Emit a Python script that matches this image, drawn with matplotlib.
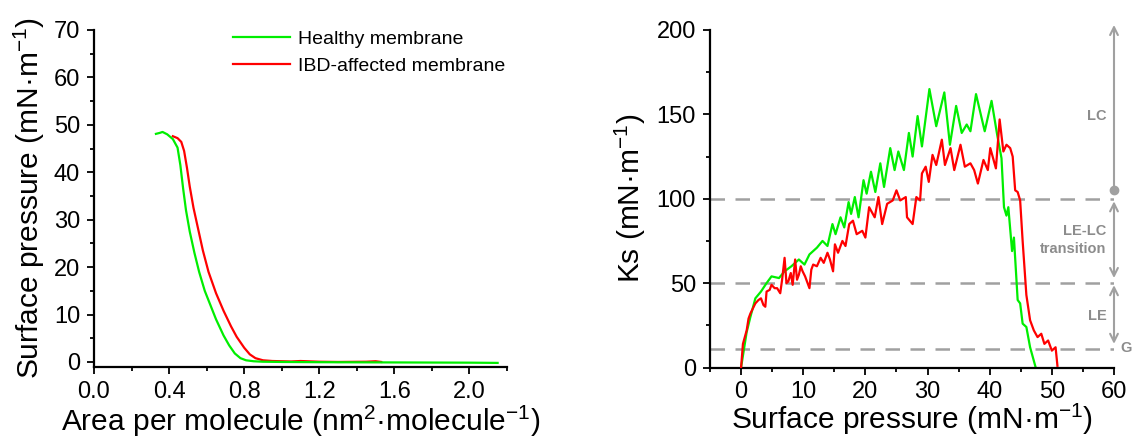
import matplotlib
matplotlib.use("Agg")
import matplotlib.pyplot as plt
from matplotlib.ticker import MultipleLocator

plt.rcParams['font.family'] = ['Liberation Sans', 'DejaVu Sans']
plt.rcParams['mathtext.fontset'] = 'custom'
plt.rcParams['mathtext.rm'] = 'Liberation Sans'
plt.rcParams['mathtext.default'] = 'regular'

GREEN = '#00ee00'
RED = '#ff0000'
GRAY = '#a0a0a0'
TXT_GRAY = '#8c8c8c'

# --- left panel: isotherms (area per molecule vs surface pressure)
healthy_area = [0.33, 0.35, 0.365, 0.39, 0.42, 0.445, 0.46, 0.475, 0.49, 0.51, 0.535,
                0.56, 0.59, 0.62, 0.65, 0.69, 0.72, 0.75, 0.78, 0.81, 0.85, 0.9, 1.0,
                1.2, 1.6, 2.0, 2.15]
healthy_pi = [48.1, 48.3, 48.5, 48.0, 47.0, 45.2, 41.5, 36.5, 32.0, 27.5, 23.0,
              19.0, 15.0, 12.0, 9.0, 5.6, 3.5, 1.8, 0.8, 0.35, 0.15, 0.05, 0.0,
              -0.05, -0.1, -0.15, -0.2]
ibd_area = [0.42, 0.445, 0.465, 0.48, 0.495, 0.51, 0.53, 0.555, 0.58, 0.61, 0.65,
            0.69, 0.73, 0.76, 0.8, 0.83, 0.86, 0.9, 0.95, 1.05, 1.1, 1.2, 1.3, 1.45,
            1.5, 1.53]
ibd_pi = [47.6, 47.2, 46.4, 44.5, 41.0, 37.0, 32.5, 28.0, 23.5, 19.0, 14.5,
          10.8, 7.5, 5.3, 3.0, 1.6, 0.8, 0.35, 0.2, 0.1, 0.2, 0.05, 0.0, 0.05,
          0.15, 0.0]

# --- right panel: compression modulus vs surface pressure
healthy_ks_pi = [0, 0.9, 1.5, 2.3, 3.2, 4.1, 4.9, 6.1, 7.0, 8.1, 9.3, 10.2, 11.0, 12.2,
                 13.1, 13.9, 14.7, 15.2, 16.0, 16.6, 17.3, 17.7, 18.3, 18.9, 19.7, 20.2,
                 20.9, 21.6, 22.4, 23.0, 24.0, 24.7, 25.3, 26.2, 27.0, 27.6, 28.4, 29.1,
                 30.3, 31.4, 32.7, 33.6, 34.6, 35.5, 36.3, 36.9, 37.8, 39.2, 40.3, 41.2,
                 41.9, 42.3, 42.7, 43.0, 43.6, 43.9, 44.5, 44.9, 45.3, 45.9, 46.5, 47.1,
                 47.4]
healthy_ks = [0, 21, 30, 41, 45, 50, 54, 53, 57, 60, 64, 61, 67, 71,
              75, 72, 85, 79, 89, 83, 98, 91, 101, 89, 111, 103,
              116, 104, 121, 107, 130, 117, 128, 117, 139, 125, 149, 131,
              165, 143, 163, 132, 155, 139, 144, 140, 162, 140, 158, 138,
              124, 95, 90, 95, 69, 77, 40, 38, 26, 24, 12, 4,
              0]
ibd_ks_pi = [0, 0.3, 0.6, 0.9, 1.2, 1.5, 1.9, 2.3, 2.8, 3.2, 3.6, 3.9, 4.1, 4.6, 4.9,
             5.4, 5.8, 6.3, 6.6, 7.0, 7.3, 7.6, 8.0, 8.3, 8.7, 9.0, 9.3, 9.6, 9.9,
             10.3, 11.0, 11.3, 11.6, 12.2, 12.8, 13.3, 13.9, 14.3, 14.8, 15.1, 15.6,
             16.3, 16.8, 17.4, 18.0, 18.6, 19.5, 20.0, 20.6,
             21.5, 22.1, 22.7, 23.5, 24.4, 25.0, 25.6, 26.5, 26.7, 27.6, 28.2, 28.8,
             29.1, 29.7, 30.2, 30.8, 31.4, 32.3, 32.8, 33.7, 34.3, 35.3, 36.0, 36.9,
             37.5, 38.1, 39.0, 39.7, 40.1, 41.0, 41.6, 42.2, 42.7, 43.3, 43.7, 44.1,
             44.5, 44.9, 45.3, 45.9, 46.5, 47.1, 47.7, 48.3, 48.8, 49.4, 50.0, 50.6,
             50.9]
ibd_ks = [0, 14, 18, 22, 29, 32, 35, 38, 40, 41, 37, 36, 45, 46, 49,
          47, 47, 44, 52, 65, 50, 51, 56, 49, 64, 52, 55, 60, 57,
          54, 47, 58, 61, 60, 65, 62, 68, 64, 57, 73, 68,
          75, 72, 85, 87, 79, 81, 77, 95,
          89, 101, 85, 97, 99, 105, 99, 101, 89, 85, 101, 99,
          115, 119, 110, 126, 120, 135, 120, 130, 117, 132, 119, 121,
          117, 109, 123, 117, 130, 118, 147, 128, 132, 130, 125, 105,
          104, 99, 75, 43, 28, 22, 18, 20, 14, 16, 10, 12,
          1]

phase_bounds = [100, 50, 11]

fig = plt.figure(figsize=(11.37, 4.37), dpi=100)
W, H = 1137, 437
ax1 = fig.add_axes([94 / W, (H - 366.7) / H, (507 - 94) / W, (366.7 - 30) / H])
ax2 = fig.add_axes([710 / W, (H - 367.5) / H, (1114 - 710) / W, (367.5 - 30) / H])

for ax in (ax1, ax2):
    for s in ('top', 'right'):
        ax.spines[s].set_visible(False)
    for s in ('left', 'bottom'):
        ax.spines[s].set_linewidth(1.6)
    ax.tick_params(which='major', direction='out', length=5, width=1.3,
                   labelsize=17, pad=5)
    ax.tick_params(which='minor', direction='out', length=3, width=1.3)

# left
l_ibd, = ax1.plot(ibd_area, ibd_pi, color=RED, lw=1.6)
l_h, = ax1.plot(healthy_area, healthy_pi, color=GREEN, lw=1.6)
ax1.set_xlim(0, 2.2)
ax1.set_ylim(-1, 70)
ax1.xaxis.set_major_locator(MultipleLocator(0.4))
ax1.xaxis.set_minor_locator(MultipleLocator(0.2))
ax1.yaxis.set_major_locator(MultipleLocator(10))
ax1.yaxis.set_minor_locator(MultipleLocator(5))
ax1.set_xticks([0.0, 0.4, 0.8, 1.2, 1.6, 2.0])
ax1.set_xticklabels(['0.0', '0.4', '0.8', '1.2', '1.6', '2.0'])
ax1.set_xlabel('Area per molecule (nm$^{2}$·molecule$^{-1}$)', fontsize=21.5, labelpad=1)
ax1.set_ylabel('Surface pressure (mN·m$^{-1}$)', fontsize=21.5, labelpad=5)
ax1.legend([l_h, l_ibd], ['Healthy membrane', 'IBD-affected membrane'],
           loc='upper left', bbox_to_anchor=(0.337, 1.0), frameon=False,
           fontsize=14, handlelength=2.9, handletextpad=0.45, labelspacing=0.5,
           borderpad=0, borderaxespad=0)

# right
for y in phase_bounds:
    ax2.axhline(y, color=GRAY, lw=1.8, dashes=(5.8, 4.2), zorder=1)
ax2.plot(healthy_ks_pi, healthy_ks, color=GREEN, lw=1.6, zorder=2)
ax2.plot(ibd_ks_pi, ibd_ks, color=RED, lw=1.6, zorder=3)
ax2.set_xlim(-5, 60)
ax2.set_ylim(0, 200)
ax2.xaxis.set_major_locator(MultipleLocator(10))
ax2.xaxis.set_minor_locator(MultipleLocator(5))
ax2.yaxis.set_major_locator(MultipleLocator(50))
ax2.yaxis.set_minor_locator(MultipleLocator(25))
ax2.set_xlabel('Surface pressure (mN·m$^{-1}$)', fontsize=21.5, labelpad=-1)
ax2.set_ylabel('Ks (mN·m$^{-1}$)', fontsize=21.5, labelpad=6)

# phase arrows
arr = dict(color=GRAY, lw=1.5, shrinkA=0, shrinkB=0, mutation_scale=14)
ax2.annotate('', xy=(60, 203), xytext=(60, 105), annotation_clip=False,
             arrowprops=dict(arrowstyle='->', **arr))
ax2.plot([60], [105], 'o', color=GRAY, ms=6, clip_on=False)
ax2.annotate('', xy=(60, 98.5), xytext=(60, 53), annotation_clip=False,
             arrowprops=dict(arrowstyle='<->', **arr))
ax2.annotate('', xy=(60, 48.8), xytext=(60, 14), annotation_clip=False,
             arrowprops=dict(arrowstyle='<->', **arr))
lab = dict(color=TXT_GRAY, fontsize=10.5, fontweight='bold', clip_on=False)
ax2.text(58.8, 149, 'LC', ha='right', va='center', **lab)
ax2.text(58.8, 75.5, 'LE-LC\ntransition', ha='right', va='center',
         multialignment='right', linespacing=1.3, **lab)
ax2.text(58.8, 30.5, 'LE', ha='right', va='center', **lab)
ax2.text(61.0, 11.5, 'G', ha='left', va='center', **lab)

fig.savefig('out.png', dpi=100)
